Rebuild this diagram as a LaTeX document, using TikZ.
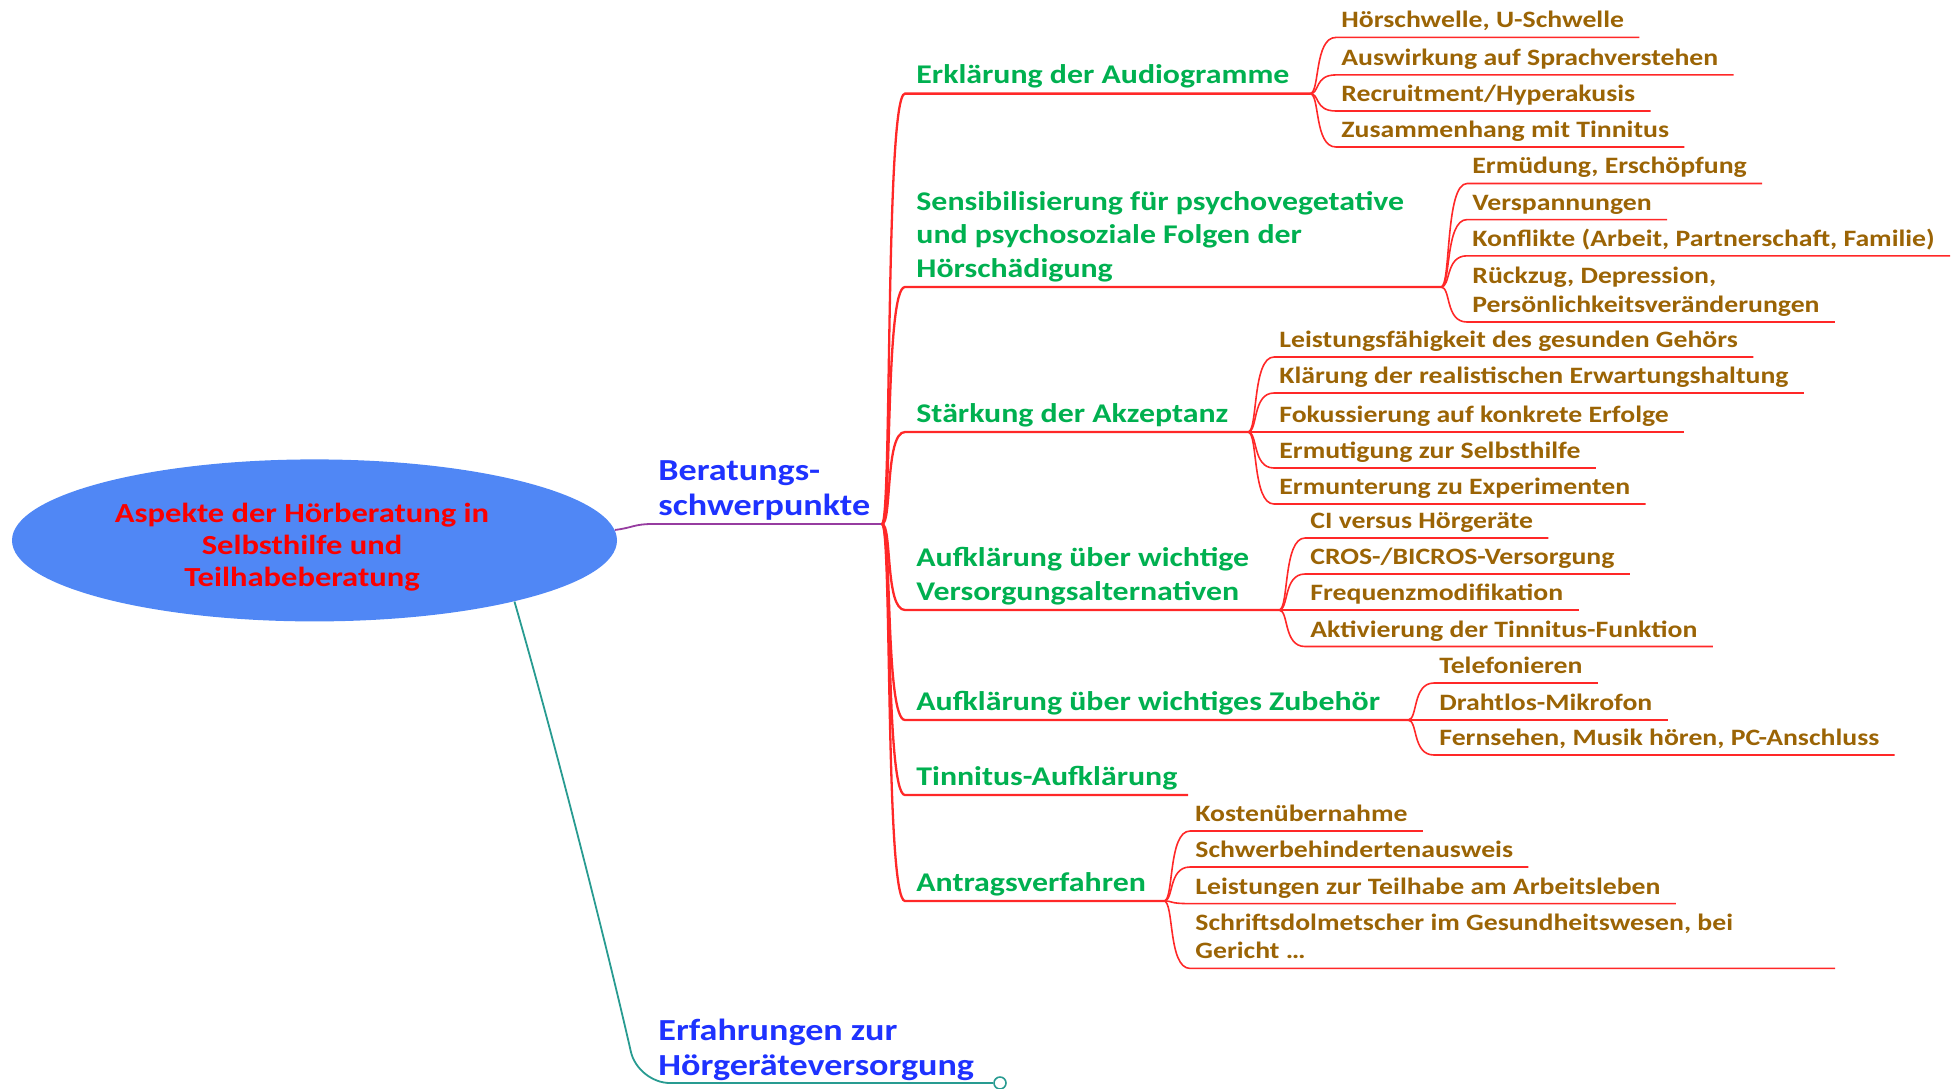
\documentclass[tikz,border=0pt]{standalone}
\usepackage{fontspec}
\setmainfont{Carlito}[FakeStretch=1.18]
\usetikzlibrary{shapes.geometric,calc}
\definecolor{ellblue}{RGB}{80,135,245}
\definecolor{topred}{RGB}{250,0,0}
\definecolor{lvlblue}{RGB}{30,50,255}
\definecolor{lvlgreen}{RGB}{0,176,80}
\definecolor{leafbrown}{RGB}{155,100,5}
\definecolor{linered}{RGB}{255,40,40}
\definecolor{linepurple}{RGB}{150,60,160}
\definecolor{lineteal}{RGB}{40,155,145}
\tikzset{
  centre/.style={ellipse, fill=ellblue, minimum width=302.5pt, minimum height=81pt, inner sep=0pt},
  centretext/.style={inner sep=0pt, align=center, text=topred, font=\fontsize{13.8}{15.9}\selectfont\bfseries},
  mainitem/.style={anchor=south west, inner sep=0pt, align=left, text=lvlblue, font=\fontsize{15.3}{17.8}\selectfont\bfseries, execute at end node=\strut},
  miditem/.style={anchor=south west, inner sep=0pt, align=left, text=lvlgreen, font=\fontsize{13.5}{16.6}\selectfont\bfseries, execute at end node=\strut},
  leafitem/.style={anchor=south west, inner sep=0pt, align=left, text=leafbrown, font=\fontsize{11.75}{14.35}\selectfont\bfseries, execute at end node=\strut},
  midline/.style={draw=linered, line width=1.15pt},
  leafline/.style={draw=linered, line width=0.8pt},
}
% #1 name, #2 underline y, #3 junction x, #4 text
\newcommand\hub[4]{%
  \node[miditem] (#1) at (916,#2+0.5) {#4};
  \coordinate (#1j) at (#3,#2);
  \draw[midline] (J0) .. controls (892,524) and (885,#2) .. (905,#2) -- (#1j);
}
% #1 name, #2 parent, #3 jx, #4 jy, #5 underline y, #6 text
\newcommand\leaf[6]{%
  \node[leafitem] (#1) at (#3+31,#5-0.5) {#6};
  \draw[leafline] (#2j) .. controls (#3+10,#4) and (#3+4,#5) .. (#3+26,#5) -- ($(#1.south east)+(15,0.5)$);
}
\begin{document}
\begin{tikzpicture}[x=0.5pt,y=-0.5pt]
\useasboundingbox (0,0) rectangle (1957,1088);
\node[centre] (root) at (314.5,540.4) {};
\node[centretext] (roottext) at (302,547) {Aspekte der Hörberatung in\\Selbsthilfe und\\Teilhabeberatung};

% level 1
\node[mainitem] (berat) at (658,527) {Beratungs-\\schwerpunkte};
\coordinate (J0) at (882,524);
\draw[linepurple, line width=0.9pt] (root.2) .. controls (632,528) and (634,524) .. (652,524) -- (J0);

\node[mainitem] (erfahr) at (658,1087) {Erfahrungen zur\\Hörgeräteversorgung};
\node[circle, draw=lineteal, fill=white, line width=0.8pt, minimum size=6pt, inner sep=0pt] (fold) at (1000,1083) {};
\draw[lineteal, line width=0.9pt, rounded corners=16] (root.-17) .. controls (560,760) and (610,960) .. (638,1083) -- (fold.west);

% level 2
\hub{aud}{93.6}{1310}{Erklärung der Audiogramme}
\hub{sens}{287}{1441}{Sensibilisierung für psychovegetative\\und psychosoziale Folgen der\\Hörschädigung}
\hub{akz}{432}{1248}{Stärkung der Akzeptanz}
\hub{vers}{610}{1279}{Aufklärung über wichtige\\Versorgungsalternativen}
\hub{zub}{720}{1408}{Aufklärung über wichtiges Zubehör}
\hub{tin}{795}{1188}{Tinnitus-Aufklärung}
\hub{ant}{901}{1164}{Antragsverfahren}

% level 3
\leaf{a1}{aud}{1310}{93.6}{37.4}{Hörschwelle, U-Schwelle}
\leaf{a2}{aud}{1310}{93.6}{74.9}{Auswirkung auf Sprachverstehen}
\leaf{a3}{aud}{1310}{93.6}{111}{Recruitment/Hyperakusis}
\leaf{a4}{aud}{1310}{93.6}{147}{Zusammenhang mit Tinnitus}

\leaf{b1}{sens}{1441}{287}{183.5}{Ermüdung, Erschöpfung}
\leaf{b2}{sens}{1441}{287}{219.6}{Verspannungen}
\leaf{b3}{sens}{1441}{287}{255.8}{Konflikte (Arbeit, Partnerschaft, Familie)}
\leaf{b4}{sens}{1441}{287}{322}{Rückzug, Depression,\\Persönlichkeitsveränderungen}

\leaf{c1}{akz}{1248}{432}{357}{Leistungsfähigkeit des gesunden Gehörs}
\leaf{c2}{akz}{1248}{432}{393}{Klärung der realistischen Erwartungshaltung}
\leaf{c3}{akz}{1248}{432}{432}{Fokussierung auf konkrete Erfolge}
\leaf{c4}{akz}{1248}{432}{468}{Ermutigung zur Selbsthilfe}
\leaf{c5}{akz}{1248}{432}{504}{Ermunterung zu Experimenten}

\leaf{d1}{vers}{1279}{610}{538}{CI versus Hörgeräte}
\leaf{d2}{vers}{1279}{610}{574}{CROS-/BICROS-Versorgung}
\leaf{d3}{vers}{1279}{610}{610}{Frequenzmodifikation}
\leaf{d4}{vers}{1279}{610}{646.5}{Aktivierung der Tinnitus-Funktion}

\leaf{e1}{zub}{1408}{720}{683}{Telefonieren}
\leaf{e2}{zub}{1408}{720}{720}{Drahtlos-Mikrofon}
\leaf{e3}{zub}{1408}{720}{755}{Fernsehen, Musik hören, PC-Anschluss}

\leaf{g1}{ant}{1164}{901}{831}{Kostenübernahme}
\leaf{g2}{ant}{1164}{901}{867}{Schwerbehindertenausweis}
\leaf{g3}{ant}{1164}{901}{903.6}{Leistungen zur Teilhabe am Arbeitsleben}
\node[leafitem] (g4) at (1195,967.9) {Schriftsdolmetscher im Gesundheitswesen, bei\\Gericht \dots};
\coordinate (g4end) at (1835,968.4);
\draw[leafline] (antj) .. controls (1174,901) and (1168,968.4) .. (1190,968.4) -- (g4end);
\end{tikzpicture}
\end{document}
